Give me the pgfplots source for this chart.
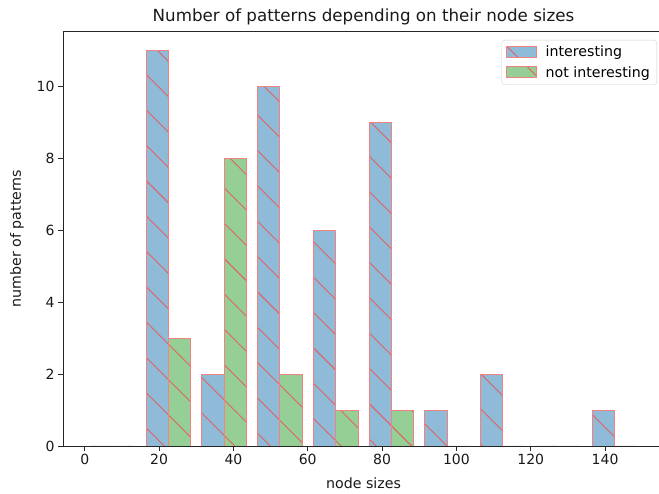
\documentclass[border=0pt]{standalone}
\usepackage{fontspec}
\setmainfont{DejaVu Sans}
\usepackage{pgfplots}
\pgfplotsset{compat=1.18}
\usetikzlibrary{patterns.meta}
\definecolor{cblue}{RGB}{143,187,217}
\definecolor{cgreen}{RGB}{149,207,149}
\definecolor{cedge}{RGB}{242,130,130}
\definecolor{chatch}{RGB}{226,98,98}
\begin{document}
\begin{tikzpicture}
\useasboundingbox (0,0) rectangle (659pt,494pt);
\begin{axis}[
  at={(63pt,48pt)}, anchor=south west,
  scale only axis, width=601pt, height=415pt,
  xmin=-5.85, xmax=155.85, ymin=0, ymax=11.55,
  ybar, bar width=6,
  axis line style={black!85, line width=0.9pt},
  tick align=outside, major tick length=5pt,
  every tick/.style={black!85, line width=0.9pt},
  xtick pos=left, ytick pos=left,
  xtick={0,20,...,140}, ytick={0,2,...,10},
  /pgf/number format/assume math mode=true,
  tick label style={font=\fontsize{14}{16}\selectfont, black!90},
  xlabel={node sizes}, ylabel={number of patterns},
  every axis x label/.style={at={(axis description cs:0.5,-0.089)}, anchor=center, font=\fontsize{14.2}{16}\selectfont, black!90},
  every axis y label/.style={at={(axis description cs:-0.0765,0.5)}, anchor=center, rotate=90, font=\fontsize{14.2}{16}\selectfont, black!90},
  title={Number of patterns depending on their node sizes},
  every axis title/.style={at={(axis description cs:0.5,1.035)}, anchor=center, font=\fontsize{16.7}{19}\selectfont, black!90},
  legend style={at={(rel axis cs:1,1)}, anchor=north east, xshift=-7pt, yshift=-9pt,
    draw=black!18, rounded corners=3pt,
    font=\fontsize{14.2}{16}\selectfont, row sep=4pt, inner xsep=4pt, inner ysep=4pt,
    nodes={inner xsep=3pt}},
  legend cell align=left,
  legend image code/.code={\draw[#1, sharp corners] (0pt,-5pt) rectangle (30pt,6pt); \path[opacity=0] (30pt,0pt) -- (36pt,0pt);},
]
\addplot[bar shift=0pt, fill=cblue, draw=cedge, line width=0.8pt,
  postaction={pattern={Lines[angle=-45,distance=25pt,line width=0.9pt]}, pattern color=chatch}]
coordinates {(4.5,0) (19.5,11) (34.5,2) (49.5,10) (64.5,6) (79.5,9) (94.5,1) (109.5,2) (124.5,0) (139.5,1)};
\addlegendentry{interesting}
\addplot[bar shift=0pt, fill=cgreen, draw=cedge, line width=0.8pt,
  postaction={pattern={Lines[angle=-45,distance=25pt,line width=0.9pt]}, pattern color=chatch}]
coordinates {(10.5,0) (25.5,3) (40.5,8) (55.5,2) (70.5,1) (85.5,1) (100.5,0) (115.5,0) (130.5,0) (145.5,0)};
\addlegendentry{not interesting}
\end{axis}
\end{tikzpicture}
\end{document}
